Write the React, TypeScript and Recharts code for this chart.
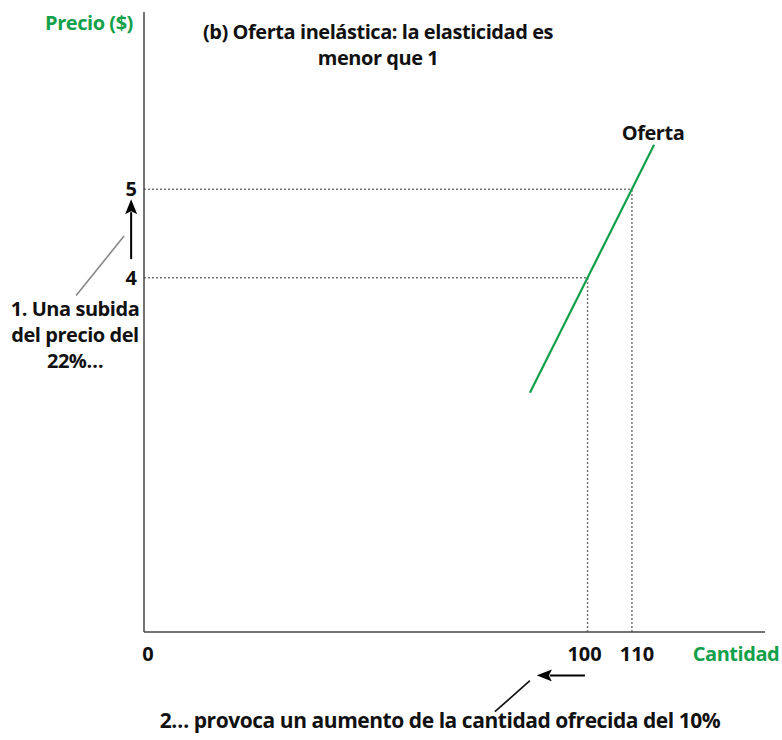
import { ComposedChart, Line, XAxis, YAxis, ReferenceLine } from "recharts";

// supply curve (quantity, price)
const supplyQty = [87, 115];
const supplyPrice = [2.7, 5.5];

// the two highlighted points on the curve
const pointQty = [100, 110];
const pointPrice = [4, 5];

const qtyTicks = [0, 100, 110];
const priceTicks = [4, 5];

const supplyData = supplyQty.map((q, i) => ({ q, p: supplyPrice[i] }));

const GREEN = "#13a04a";
const FONT = "'Open Sans', 'Noto Sans', sans-serif";

// annotation arrows / leader lines, in chart units
const priceArrow = [{ x: -2.9, y: 4.21 }, { x: -2.9, y: 4.74 }];
const priceLeader = [{ x: -15.3, y: 3.8 }, { x: -4.5, y: 4.47 }];
const qtyArrow = [{ x: 99.4, y: -0.49 }, { x: 91.5, y: -0.49 }];
const qtyLeader = [{ x: 79.1, y: -0.9 }, { x: 87, y: -0.55 }];

// the labels under the axis sit a little apart from their ticks
const qtyTickNudge: Record<number, number> = { 0: 4, 100: -3, 110: 5 };

const txt = (extra: React.CSSProperties): React.CSSProperties => ({
  position: "absolute",
  fontFamily: FONT,
  fontWeight: 700,
  fontSize: 20,
  lineHeight: "26px",
  color: "#111",
  textAlign: "center",
  whiteSpace: "nowrap",
  letterSpacing: -0.45,
  ...extra,
});

const arrowShape = (p: any) => (
  <line x1={p.x1} y1={p.y1} x2={p.x2} y2={p.y2} stroke="#000" strokeWidth={2} markerEnd="url(#head)" />
);
const leaderShape = (color: string) => (p: any) => (
  <line x1={p.x1} y1={p.y1} x2={p.x2} y2={p.y2} stroke={color} strokeWidth={1.6} />
);

const tickStyle = { fontSize: 20, fontWeight: 700, fill: "#111", fontFamily: FONT };

function QtyTick(props: any) {
  const { x, y, payload } = props;
  return (
    <text x={x + (qtyTickNudge[payload.value] ?? 0)} y={y} dy="0.71em" textAnchor="middle" {...tickStyle}>
      {payload.value}
    </text>
  );
}

export default function App() {
  return (
    <div style={{ position: "absolute", left: 0, top: 0, width: 782, height: 740, background: "#fff" }}>
      <ComposedChart width={782} height={740} data={supplyData} margin={{ top: 12, right: 17, left: 0, bottom: 78 }}>
        <defs>
          <marker id="head" markerWidth="15" markerHeight="12" refX="2" refY="6" orient="auto" markerUnits="userSpaceOnUse">
            <path d="M0,0 L15,6 L0,12 L3,6 Z" fill="#000" />
          </marker>
        </defs>
        <XAxis
          dataKey="q"
          type="number"
          domain={[0, 140]}
          ticks={qtyTicks}
          tickLine={false}
          tickMargin={9}
          axisLine={{ stroke: "#444", strokeWidth: 1.5 }}
          tick={<QtyTick />}
          height={30}
          allowDataOverflow
        />
        <YAxis
          type="number"
          domain={[0, 7]}
          ticks={priceTicks}
          tickLine={false}
          tickMargin={1}
          width={144}
          axisLine={{ stroke: "#444", strokeWidth: 1.5 }}
          tick={tickStyle}
          allowDataOverflow
        />
        {pointQty.map((q, i) => (
          <ReferenceLine
            key={"h" + q}
            segment={[{ x: 0, y: pointPrice[i] }, { x: q, y: pointPrice[i] }]}
            stroke="#777"
            strokeWidth={1.5}
            strokeDasharray="2 2"
          />
        ))}
        {pointQty.map((q, i) => (
          <ReferenceLine
            key={"v" + q}
            segment={[{ x: q, y: 0 }, { x: q, y: pointPrice[i] }]}
            stroke="#777"
            strokeWidth={1.5}
            strokeDasharray="2 2"
          />
        ))}
        <Line dataKey="p" stroke={GREEN} strokeWidth={2.2} dot={false} isAnimationActive={false} />
        <ReferenceLine segment={priceArrow} ifOverflow="visible" shape={arrowShape} />
        <ReferenceLine segment={priceLeader} ifOverflow="visible" shape={leaderShape("#888")} />
        <ReferenceLine segment={qtyArrow} ifOverflow="visible" shape={arrowShape} />
        <ReferenceLine segment={qtyLeader} ifOverflow="visible" shape={leaderShape("#111")} />
      </ComposedChart>

      <div style={txt({ left: 29, top: 10, width: 120, color: GREEN })}>Precio ($)</div>
      <div style={txt({ left: 178, top: 19, width: 400 })}>
        (b) Oferta inelástica: la elasticidad es
        <br />
        menor que 1
      </div>
      <div style={txt({ left: 603, top: 120, width: 100 })}>Oferta</div>
      <div style={txt({ left: 0, top: 296, width: 150 })}>
        1. Una subida
        <br />
        del precio del
        <br />
        22%…
      </div>
      <div style={txt({ left: 686, top: 641, width: 100, color: GREEN })}>Cantidad</div>
      <div style={txt({ left: 140, top: 707, width: 600, fontSize: 21 })}>
        2… provoca un aumento de la cantidad ofrecida del 10%
      </div>
    </div>
  );
}
